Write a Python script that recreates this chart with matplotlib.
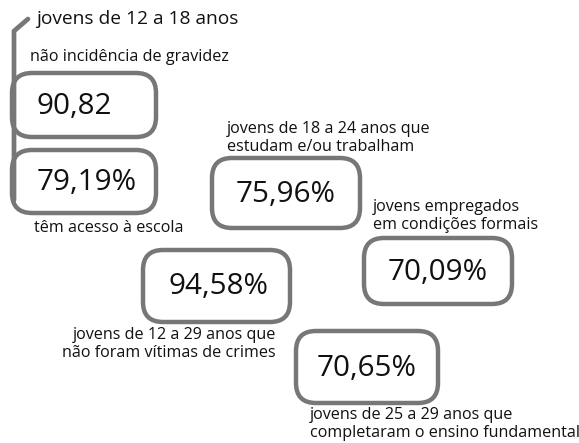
import matplotlib.pyplot as plt
from matplotlib.patches import FancyBboxPatch

plt.rcParams['font.family'] = ['Open Sans', 'DejaVu Sans']

# values shown in the boxes
values = ['90,82', '79,19%', '75,96%', '70,09%', '94,58%', '70,65%']
# captions for each box
captions = ['não incidência de gravidez',
            'têm acesso à escola',
            'jovens de 18 a 24 anos que\nestudam e/ou trabalham',
            'jovens empregados\nem condições formais',
            'jovens de 12 a 29 anos que\nnão foram vítimas de crimes',
            'jovens de 25 a 29 anos que\ncompletaram o ensino fundamental']
header = 'jovens de 12 a 18 anos'

# box layout in pixels: x0, y0, x1, y1
boxes = [(12, 73, 156, 137), (12, 150, 156, 213), (212, 158, 360, 228),
         (364, 238, 512, 304), (143, 250, 290, 322), (296, 331, 438, 403)]
text_x = [37, 37, 286, 438, 218, 367]
text_ha = ['left', 'left', 'center', 'center', 'center', 'center']
cap_pos = [(30, 57, 'left'), (34, 228, 'left'), (227, 138, 'left'),
           (373, 216, 'left'), (276, 344, 'right'), (310, 424, 'left')]

fig = plt.figure(figsize=(5.79, 4.43), dpi=100)
ax = fig.add_axes([0, 0, 1, 1])
ax.set_xlim(0, 579)
ax.set_ylim(443, 0)
ax.axis('off')

grey = '#777777'

# bracket on the left
ax.plot([28, 14, 14], [19, 31, 200], color=grey, lw=3.4, solid_capstyle='round')
ax.text(36, 19, header, fontsize=13.8, va='center', ha='left', color='#111111')

for i in range(len(values)):
    x0, y0, x1, y1 = boxes[i]
    p = FancyBboxPatch((x0, y0), x1 - x0, y1 - y0,
                       boxstyle='round,pad=0,rounding_size=20',
                       fc='white', ec=grey, lw=3.2)
    ax.add_patch(p)
    ax.text(text_x[i], (y0 + y1) / 2 + 1, values[i], fontsize=21.3,
            ha=text_ha[i], va='center', color='#111111')
    cx, cy, cha = cap_pos[i]
    ax.text(cx, cy, captions[i], fontsize=11.6, ha=cha, va='center',
            color='#111111', linespacing=1.2, multialignment=cha)

fig.savefig('out.png', dpi=100)
